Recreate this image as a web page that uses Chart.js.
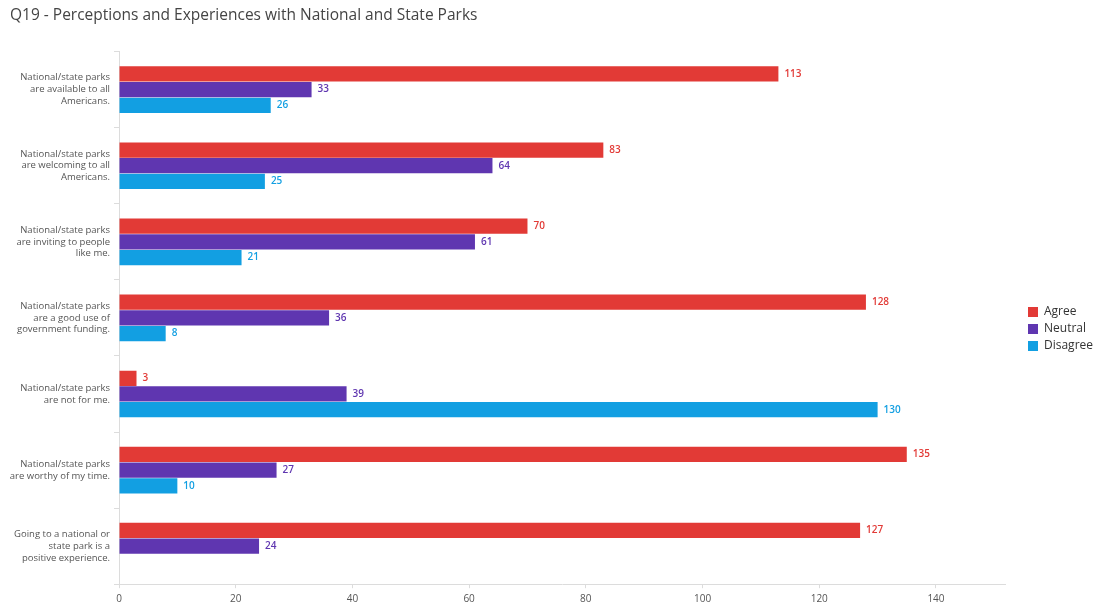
<!DOCTYPE html>
<html>
<head>
<meta charset="utf-8">
<script src="https://cdn.jsdelivr.net/npm/chart.js@4"></script>
<style>
  html, body { margin: 0; padding: 0; background: #fff; }
  #wrap { width: 1097px; height: 606px; }
</style>
</head>
<body>
<div id="wrap"><canvas id="chart"></canvas></div>
<script>
const categories = [
  ['National/state parks', 'are available to all', 'Americans.'],
  ['National/state parks', 'are welcoming to all', 'Americans.'],
  ['National/state parks', 'are inviting to people', 'like me.'],
  ['National/state parks', 'are a good use of', 'government funding.'],
  ['National/state parks', 'are not for me.'],
  ['National/state parks', 'are worthy of my time.'],
  ['Going to a national or', 'state park is a', 'positive experience.']
];
const agree = [113, 83, 70, 128, 3, 135, 127];
const neutral = [33, 64, 61, 36, 39, 27, 24];
const disagree = [26, 25, 21, 8, 130, 10, null];
const xTicks = [0, 20, 40, 60, 80, 100, 120, 140];

const axisGray = '#dcdcdc';
const font = "'Open Sans', 'Noto Sans', sans-serif";

// value labels at the end of each bar
const barValues = {
  id: 'barValues',
  afterDatasetsDraw(chart) {
    const ctx = chart.ctx;
    ctx.save();
    ctx.font = '600 10px ' + font;
    ctx.textBaseline = 'middle';
    ctx.textAlign = 'left';
    chart.data.datasets.forEach((ds, i) => {
      chart.getDatasetMeta(i).data.forEach((bar, j) => {
        const v = ds.data[j];
        if (v == null) return;
        ctx.fillStyle = ds.backgroundColor;
        ctx.fillText(v, bar.x + 6, bar.y);
      });
    });
    ctx.restore();
  }
};

// move the legend to where the original sits
const legendShift = {
  id: 'legendShift',
  afterLayout(chart) {
    const l = chart.legend;
    const dx = 1023 - l.left;
    l.left += dx;
    l.right += dx;
    l.top += 23;
    l.bottom += 23;
  }
};

new Chart(document.getElementById('chart'), {
  type: 'bar',
  data: {
    labels: categories,
    datasets: [
      { label: 'Agree', data: agree, backgroundColor: '#e23a36' },
      { label: 'Neutral', data: neutral, backgroundColor: '#5f36b0' },
      { label: 'Disagree', data: disagree, backgroundColor: '#129fe2' }
    ]
  },
  options: {
    indexAxis: 'y',
    responsive: true,
    maintainAspectRatio: false,
    animation: false,
    categoryPercentage: 0.62,
    barPercentage: 0.97,
    layout: { padding: { left: 10, right: 11, top: 0, bottom: -6 } },
    scales: {
      x: {
        min: 0,
        max: 152,
        afterBuildTicks(scale) {
          scale.ticks = xTicks.map(v => ({ value: v }));
        },
        border: { color: axisGray },
        grid: { drawOnChartArea: false, tickLength: 4, color: axisGray },
        ticks: { padding: 5, color: '#555', font: { family: font, size: 10 } }
      },
      y: {
        afterFit(scale) { scale.width = 109; },
        border: { color: axisGray },
        grid: { drawOnChartArea: false, tickLength: 5, color: axisGray, offset: true },
        ticks: { padding: 4, color: '#555', font: { family: font, size: 9.5, lineHeight: 1.25 } }
      }
    },
    plugins: {
      title: {
        display: true,
        text: 'Q19 - Perceptions and Experiences with National and State Parks',
        align: 'start',
        color: '#444',
        font: { family: font, size: 15.5, weight: 'normal' },
        padding: { top: 6, bottom: 27 }
      },
      legend: {
        position: 'right',
        labels: {
          boxWidth: 10,
          boxHeight: 10,
          padding: 5,
          color: '#333',
          font: { family: font, size: 12 }
        }
      },
      tooltip: { enabled: false }
    }
  },
  plugins: [barValues, legendShift]
});
</script>
</body>
</html>
